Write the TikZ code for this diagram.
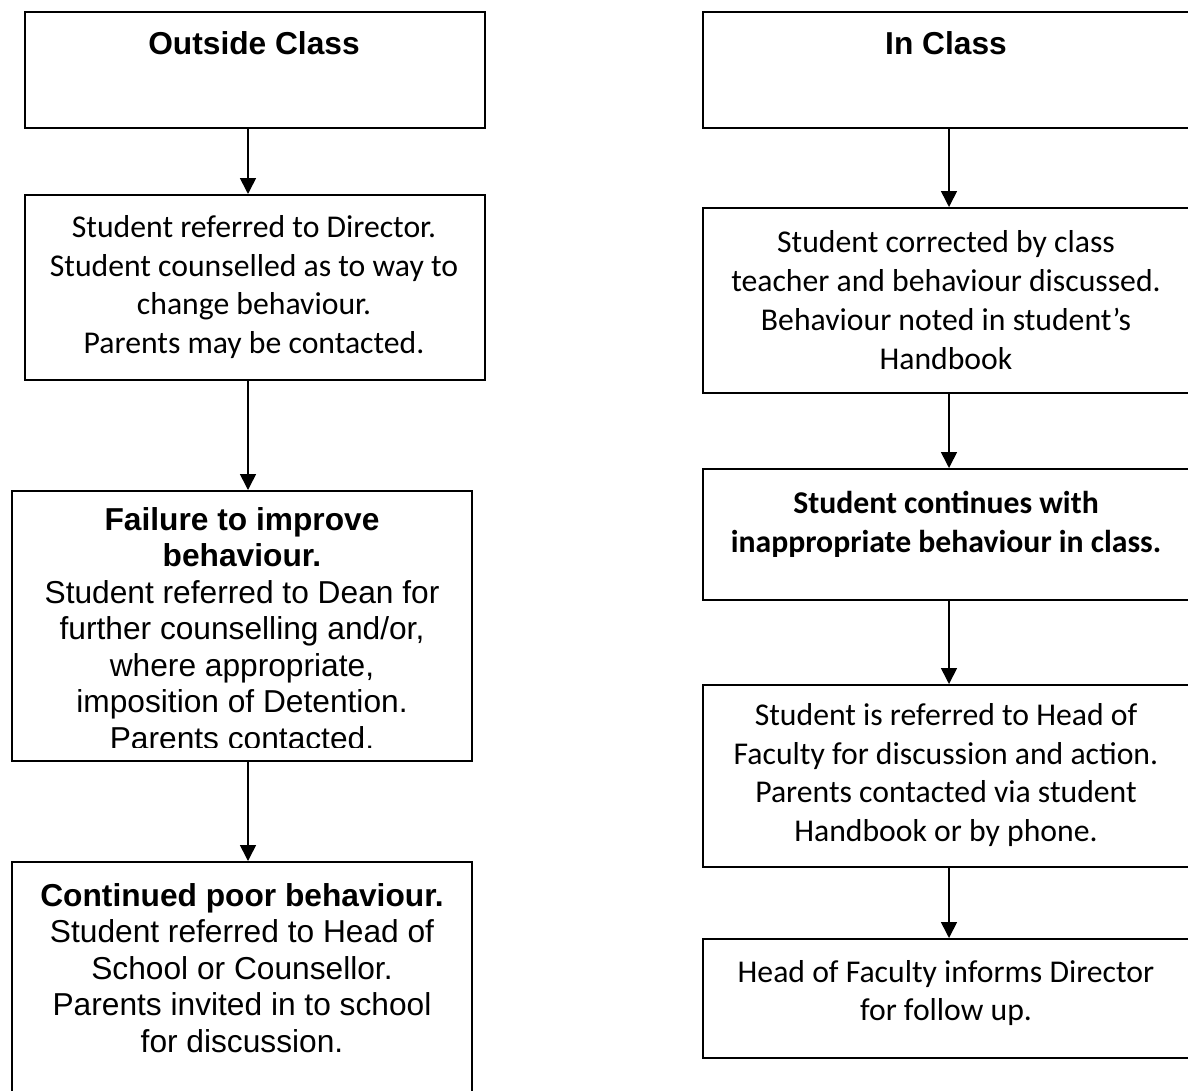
\documentclass[tikz,border=0pt]{standalone}
\usepackage{fontspec}
\newfontfamily\arialf{Liberation Sans}
\newfontfamily\calf{Carlito}
\usetikzlibrary{arrows.meta}
\begin{document}
\begin{tikzpicture}[x=1pt,y=-1pt,
  box/.style={draw, line width=2pt, rectangle, inner sep=0pt},
  conn/.style={line width=1.6pt, -{Triangle[width=16pt,length=16pt]}},
  ar/.style={font=\arialf\fontsize{31.7}{36.5}\selectfont, align=center, inner sep=0pt},
  arb/.style={font=\arialf\bfseries\fontsize{31.7}{36.5}\selectfont, align=center, inner sep=0pt},
  ca/.style={font=\calf\fontsize{31.7}{38.8}\selectfont, align=center, inner sep=0pt},
]
\useasboundingbox (0,0) rectangle (1188,1090);
\clip (0,0) rectangle (1188,1090);
\fill[white] (0,0) rectangle (1188,1090);

% left column boxes
\node[box, minimum width=460pt, minimum height=116pt] (L1) at (255,70) {};
\node[box, minimum width=460pt, minimum height=185pt] (L2) at (255,287.5) {};
\node[box, minimum width=460pt, minimum height=270pt] (L3) at (242,626) {};
\node[box, minimum width=460pt, minimum height=238pt] (L4) at (242,981) {};
% right column boxes
\node[box, minimum width=492pt, minimum height=116pt] (R1) at (949,70) {};
\node[box, minimum width=492pt, minimum height=185pt] (R2) at (949,300.5) {};
\node[box, minimum width=492pt, minimum height=131pt] (R3) at (949,534.5) {};
\node[box, minimum width=492pt, minimum height=182pt] (R4) at (949,776) {};
\node[box, minimum width=492pt, minimum height=119pt] (R5) at (949,998.5) {};

% texts
\node[arb] (tL1) at (254,43) {Outside Class};
\node[ca] (tL2) at (254,287) {Student referred to Director.\\Student counselled as to way to\\change behaviour.\\Parents may be contacted.};
\begin{scope}
\clip (13,492) rectangle (471,747);
\node[ar, anchor=north] (tL3) at (242,507) {\textbf{Failure to improve}\\\textbf{behaviour.}\\Student referred to Dean for\\further counselling and/or,\\where appropriate,\\imposition of Detention.\\Parents contacted.};
\end{scope}
\node[ar, anchor=north] (tL4) at (242,883) {\textbf{Continued poor behaviour.}\\Student referred to Head of\\School or Counsellor.\\Parents invited in to school\\for discussion.};

\node[arb] (tR1) at (946,43) {In Class};
\node[ca] (tR2) at (946,300) {Student corrected by class\\teacher and behaviour discussed.\\Behaviour noted in student’s\\Handbook};
\node[ca, font=\calf\bfseries\fontsize{31.7}{38.8}\selectfont] (tR3) at (946,524) {Student continues with\\inappropriate behaviour in class.};
\node[ca] (tR4) at (946,775) {Student is referred to Head of\\Faculty for discussion and action.\\Parents contacted via student\\Handbook or by phone.};
\node[ca] (tR5) at (946,993) {Head of Faculty informs Director\\for follow up.};

% connectors
\coordinate (lx) at (248,0);
\draw[conn] (L1.south -| lx) -- (L2.north -| lx);
\draw[conn] (L2.south -| lx) -- (L3.north -| lx);
\draw[conn] (L3.south -| lx) -- (L4.north -| lx);
\draw[conn] (R1) -- (R2);
\draw[conn] (R2) -- (R3);
\draw[conn] (R3) -- (R4);
\draw[conn] (R4) -- (R5);
\end{tikzpicture}
\end{document}
